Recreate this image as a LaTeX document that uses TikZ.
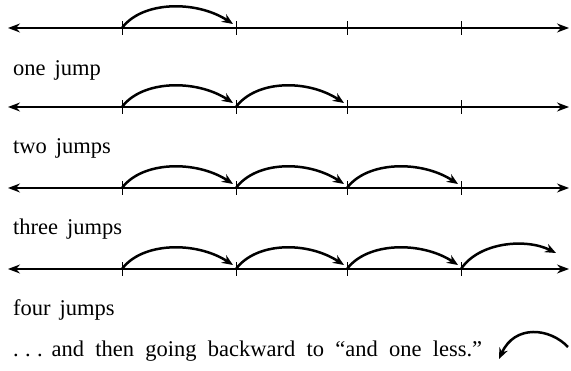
\documentclass[tikz,border=0pt]{standalone}
\usepackage{fontspec}
\setmainfont{Liberation Serif}
\usetikzlibrary{arrows.meta,calc}
\tikzset{
  numline/.style={line width=1.4pt,{Stealth[length=12pt,width=9pt]}-{Stealth[length=12pt,width=9pt]}},
  tickmark/.style={line width=1pt},
  jumparrow/.style={line width=2.5pt,-{Stealth[length=11pt,width=9pt]}},
  caption/.style={anchor=west,inner sep=0pt,font=\fontsize{22.5}{24}\selectfont}
}
\begin{document}
\begin{tikzpicture}[x=1pt,y=1pt]
\useasboundingbox (0,0) rectangle (571,370);
\foreach \r/\y in {1/342,2/263,3/182,4/101}{
  \coordinate (L\r a) at (8,\y);
  \coordinate (L\r b) at (569,\y);
  \draw[numline] (L\r a) -- (L\r b);
  \foreach \k/\x in {1/122,2/236,3/347,4/461}{
    \coordinate (t\r\k) at (\x,\y);
    \draw[tickmark] ($(t\r\k)+(0,-7)$) -- ($(t\r\k)+(0,7)$);
  }
}
% jumps
\foreach \r/\n in {1/1,2/2,3/3,4/3}{
  \foreach \k in {1,...,\n}{
    \pgfmathtruncatemacro{\nk}{\k+1}
    \draw[jumparrow] (t\r\k) .. controls ($(t\r\k)+(20,27)$) and ($(t\r\nk)+(-40,28)$) .. ($(t\r\nk)+(-3,4)$);
  }
}
\coordinate (e45) at (556,117);
\draw[jumparrow] (t44) .. controls ($(t44)+(18,27)$) and ($(e45)+(-30,15)$) .. (e45);
% captions
\node[caption] (c1) at (13,300) {one\hspace{0.4em}jump};
\node[caption] (c2) at (13,222) {two\hspace{0.4em}jumps};
\node[caption] (c3) at (13,141) {three\hspace{0.4em}jumps};
\node[caption] (c4) at (13,60) {four\hspace{0.4em}jumps};
\node[caption] (c5) at (13,19) {.\hspace{0.28em}.\hspace{0.28em}.\hspace{0.4em}and\hspace{0.5em}then\hspace{0.5em}going\hspace{0.5em}backward\hspace{0.5em}to\hspace{0.5em}“and\hspace{0.5em}one\hspace{0.5em}less.”};
% backward arrow
\coordinate (b1) at (568,23);
\coordinate (b2) at (499,11);
\draw[jumparrow] (b1) .. controls (550,42) and (515,46) .. (b2);
\end{tikzpicture}
\end{document}
